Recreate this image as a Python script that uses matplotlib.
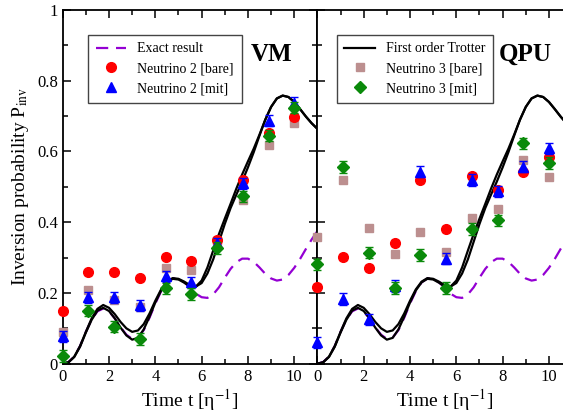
import numpy as np
import matplotlib
matplotlib.use("Agg")
import matplotlib.pyplot as plt
from matplotlib.ticker import MultipleLocator, FixedLocator, FixedFormatter
from matplotlib.lines import Line2D

plt.rcParams["font.family"] = "serif"
plt.rcParams["font.serif"] = ["Liberation Serif", "DejaVu Serif"]
plt.rcParams["mathtext.fontset"] = "stix"

# measurement times
t_meas = [0.0, 1.11, 2.22, 3.33, 4.44, 5.56, 6.67, 7.78, 8.89, 10.0]

# VM results
vm_n2_bare = [0.149, 0.258, 0.258, 0.241, 0.303, 0.291, 0.350, 0.519, 0.652, 0.697]
vm_n2_mit = [0.077, 0.188, 0.188, 0.165, 0.247, 0.230, 0.340, 0.510, 0.687, 0.737]
vm_n3_bare = [0.090, 0.208, 0.180, 0.160, 0.270, 0.265, 0.347, 0.462, 0.617, 0.680]
vm_n3_mit = [0.022, 0.150, 0.105, 0.070, 0.213, 0.197, 0.327, 0.473, 0.645, 0.724]

# QPU results
qpu_n2_bare = [0.217, 0.301, 0.271, 0.342, 0.519, 0.381, 0.530, 0.491, 0.543, 0.585]
qpu_n2_mit = [0.060, 0.183, 0.125, 0.220, 0.543, 0.297, 0.519, 0.487, 0.557, 0.609]
qpu_n3_bare = [0.359, 0.519, 0.383, 0.309, 0.373, 0.315, 0.411, 0.437, 0.576, 0.529]
qpu_n3_mit = [0.281, 0.556, 0.314, 0.214, 0.307, 0.214, 0.381, 0.405, 0.623, 0.567]

# statistical uncertainties
err_bare = [0.008, 0.008, 0.008, 0.008, 0.008, 0.008, 0.008, 0.008, 0.008, 0.008]
err_mit = [0.016, 0.016, 0.016, 0.016, 0.016, 0.016, 0.016, 0.016, 0.016, 0.016]

# theory curves
t_curve = [0.0, 0.25, 0.5, 0.75, 1.0, 1.25, 1.5, 1.75, 2.0, 2.25, 2.5, 2.75,
           3.0, 3.25, 3.5, 3.75, 4.0, 4.25, 4.5, 4.75, 5.0, 5.25, 5.5, 5.75,
           6.0, 6.25, 6.5, 6.75, 7.0, 7.25, 7.5, 7.75, 8.0, 8.25, 8.5, 8.75,
           9.0, 9.25, 9.5, 9.75, 10.0, 10.25, 10.5, 10.75, 11.0]
exact = [0, 0.005, 0.02, 0.05, 0.09, 0.125, 0.148, 0.156, 0.148, 0.128, 0.103,
         0.082, 0.07, 0.074, 0.095, 0.13, 0.17, 0.205, 0.23, 0.241, 0.24, 0.23,
         0.215, 0.198, 0.188, 0.186, 0.196, 0.216, 0.243, 0.268, 0.287, 0.297,
         0.297, 0.288, 0.272, 0.254, 0.241, 0.235, 0.238, 0.251, 0.271, 0.296,
         0.324, 0.351, 0.375]
trotter_a = [0, 0.004, 0.02, 0.05, 0.09, 0.128, 0.155, 0.166, 0.158, 0.14, 0.118,
             0.1, 0.09, 0.094, 0.112, 0.142, 0.178, 0.21, 0.232, 0.242, 0.24,
             0.232, 0.222, 0.218, 0.228, 0.255, 0.295, 0.345, 0.395, 0.44, 0.478,
             0.515, 0.555, 0.598, 0.645, 0.69, 0.726, 0.75, 0.758, 0.754, 0.74,
             0.72, 0.699, 0.68, 0.664]
trotter_b = [0, 0.004, 0.019, 0.048, 0.088, 0.124, 0.15, 0.158, 0.149, 0.128,
             0.102, 0.08, 0.068, 0.073, 0.097, 0.133, 0.173, 0.207, 0.23, 0.24,
             0.238, 0.229, 0.218, 0.218, 0.235, 0.272, 0.32, 0.367, 0.41, 0.452,
             0.495, 0.535, 0.572, 0.608, 0.648, 0.69, 0.726, 0.75, 0.758, 0.754,
             0.74, 0.72, 0.699, 0.68, 0.664]

C_RED = "#ff0000"
C_BLUE = "#0000ff"
C_BROWN = "#bc8f8f"
C_GREEN = "#0a8a0a"
C_VIOLET = "#9400d3"
DASH = (0, (5.5, 3.5))

W, H = 563, 415
fig = plt.figure(figsize=(W / 100, H / 100), dpi=100)
x0, pw = 62.7, 254.7
y_bot, y_top = 363.7, 10.0
ax_l = fig.add_axes([x0 / W, 1 - y_bot / H, pw / W, (y_bot - y_top) / H])
ax_r = fig.add_axes([(x0 + pw) / W, 1 - y_bot / H, pw / W, (y_bot - y_top) / H])


def draw_panel(ax, n2b, n2m, n3b, n3m):
    ax.plot(t_curve, exact, color=C_VIOLET, lw=1.6, ls=DASH, zorder=2)
    ax.plot(t_curve, trotter_a, color="black", lw=1.6, zorder=3)
    ax.plot(t_curve, trotter_b, color="black", lw=1.6, zorder=3)
    series = [(n3b, err_bare, C_BROWN, "s", 6.0),
              (n2b, err_bare, C_RED, "o", 7.0),
              (n2m, err_mit, C_BLUE, "^", 7.5),
              (n3m, err_mit, C_GREEN, "D", 6.0)]
    for z, (vals, err, col, mk, ms) in enumerate(series):
        ax.errorbar(t_meas, vals, yerr=err, fmt=mk, color=col, ms=ms,
                    mec=col, elinewidth=1.0, capsize=3.0, capthick=1.0,
                    zorder=5 + z, clip_on=False)
    ax.set_xlim(0, 11)
    ax.set_ylim(0, 1)
    ax.xaxis.set_major_locator(FixedLocator([0, 2, 4, 6, 8, 10]))
    ax.xaxis.set_minor_locator(MultipleLocator(1))
    ax.yaxis.set_major_locator(FixedLocator([0, 0.2, 0.4, 0.6, 0.8, 1.0]))
    ax.yaxis.set_minor_locator(MultipleLocator(0.1))
    ax.tick_params(which="both", direction="in", top=True, right=True,
                   width=1.1, labelsize=12)
    ax.tick_params(which="major", length=6)
    ax.tick_params(which="minor", length=3.5)
    for s in ax.spines.values():
        s.set_linewidth(1.3)
    ax.set_xlabel("Time t [η$^{-1}$]", fontsize=14, labelpad=2)


draw_panel(ax_l, vm_n2_bare, vm_n2_mit, vm_n3_bare, vm_n3_mit)
draw_panel(ax_r, qpu_n2_bare, qpu_n2_mit, qpu_n3_bare, qpu_n3_mit)

ax_l.yaxis.set_major_formatter(FixedFormatter(["0", "0.2", "0.4", "0.6", "0.8", "1"]))
ax_l.set_ylabel(r"Inversion probability P$_{\mathrm{inv}}$", fontsize=14, labelpad=4)
ax_r.tick_params(labelleft=False)

ax_l.text(0.82, 0.875, "VM", transform=ax_l.transAxes, fontsize=18,
          fontweight="bold", ha="center", va="center")
ax_r.text(0.815, 0.875, "QPU", transform=ax_r.transAxes, fontsize=18,
          fontweight="bold", ha="center", va="center")

leg_kw = dict(loc="upper left", fontsize=10, frameon=True, fancybox=False,
              edgecolor="#444444", framealpha=1, borderaxespad=0,
              handlelength=2.2, handletextpad=0.8, labelspacing=0.5,
              borderpad=0.55)
h_left = [Line2D([], [], color=C_VIOLET, lw=1.6, ls=DASH),
          Line2D([], [], color=C_RED, marker="o", ms=7, ls="none"),
          Line2D([], [], color=C_BLUE, marker="^", ms=7.5, ls="none")]
lg = ax_l.legend(h_left, ["Exact result", "Neutrino 2 [bare]", "Neutrino 2 [mit]"],
                 bbox_to_anchor=(0.1, 0.93), **leg_kw)
lg.get_frame().set_linewidth(1.0)
h_right = [Line2D([], [], color="black", lw=1.6),
           Line2D([], [], color=C_BROWN, marker="s", ms=6, ls="none"),
           Line2D([], [], color=C_GREEN, marker="D", ms=6, ls="none")]
lg = ax_r.legend(h_right, ["First order Trotter", "Neutrino 3 [bare]", "Neutrino 3 [mit]"],
                 bbox_to_anchor=(0.076, 0.93), **leg_kw)
lg.get_frame().set_linewidth(1.0)

fig.savefig("out.png", dpi=100)
